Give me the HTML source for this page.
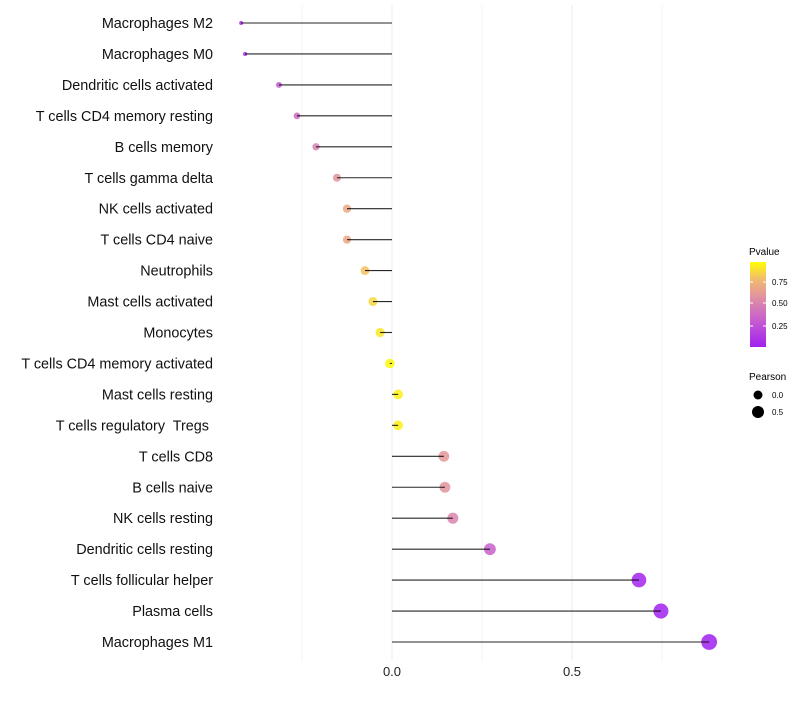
<!DOCTYPE html>
<html><head><meta charset="utf-8"><style>
body{margin:0;background:#fff;font-family:"Liberation Sans",sans-serif}
svg text{font-family:"Liberation Sans",sans-serif}
</style></head><body>
<svg id="c" width="800" height="700">
<defs><linearGradient id="pg" x1="0" y1="1" x2="0" y2="0">
<stop offset="0" stop-color="#a020f0"/><stop offset="0.3" stop-color="#c55bd0"/><stop offset="0.55" stop-color="#dd8aa8"/><stop offset="0.8" stop-color="#f2bb6e"/><stop offset="1" stop-color="#ffff00"/></linearGradient></defs>
<g id="grid"></g><g id="marks"></g><g id="labels"></g>
<g>
<text x="749" y="255" font-size="10">Pvalue</text>
<rect x="750" y="262" width="16" height="85" fill="url(#pg)"/>
<line x1="750" x2="753" y1="282" y2="282" stroke="#fff"/><line x1="763" x2="766" y1="282" y2="282" stroke="#fff"/>
<line x1="750" x2="753" y1="303" y2="303" stroke="#fff"/><line x1="763" x2="766" y1="303" y2="303" stroke="#fff"/>
<line x1="750" x2="753" y1="326" y2="326" stroke="#fff"/><line x1="763" x2="766" y1="326" y2="326" stroke="#fff"/>
<text x="772" y="285" font-size="8">0.75</text><text x="772" y="306" font-size="8">0.50</text><text x="772" y="329" font-size="8">0.25</text>
</g>
<g>
<text x="749" y="380" font-size="10">Pearson</text>
<circle cx="758" cy="395" r="4.5"/><text x="772" y="398" font-size="8">0.0</text>
<circle cx="758" cy="412" r="6"/><text x="772" y="415" font-size="8">0.5</text>
</g>
</svg>
<script>
const cells=["Macrophages M2","Macrophages M0","Dendritic cells activated","T cells CD4 memory resting","B cells memory","T cells gamma delta","NK cells activated","T cells CD4 naive","Neutrophils","Mast cells activated","Monocytes","T cells CD4 memory activated","Mast cells resting","T cells regulatory  Tregs\u00a0","T cells CD8","B cells naive","NK cells resting","Dendritic cells resting","T cells follicular helper","Plasma cells","Macrophages M1"];
const pearson=[-0.419,-0.408,-0.314,-0.264,-0.211,-0.153,-0.125,-0.125,-0.075,-0.053,-0.033,-0.006,0.017,0.017,0.144,0.147,0.169,0.272,0.686,0.747,0.881];
const pvalue=[0.05,0.06,0.28,0.38,0.5,0.6,0.7,0.7,0.82,0.88,0.92,0.98,0.96,0.96,0.62,0.6,0.52,0.32,0.02,0.01,0.0];
const xTicks=[0,0.5];
const ns="http://www.w3.org/2000/svg";
const x=v=>392+v*360, y=i=>23+i*30.95, r=v=>Math.sqrt(4+45*(v+0.42));
const stops=[[0,[160,32,240]],[0.3,[197,91,208]],[0.55,[221,138,168]],[0.8,[242,187,110]],[1,[255,255,0]]];
function col(p){for(let k=1;k<stops.length;k++){if(p<=stops[k][0]){const a=stops[k-1],b=stops[k],t=(p-a[0])/(b[0]-a[0]);return 'rgb('+a[1].map((c,j)=>Math.round(c+(b[1][j]-c)*t)).join(',')+')';}}return 'rgb(255,255,0)';}
function mk(t,a,p){const e=document.createElementNS(ns,t);for(const k in a)e.setAttribute(k,a[k]);p.appendChild(e);return e;}
const g=document.getElementById('grid'),m=document.getElementById('marks'),l=document.getElementById('labels');
[-0.25,0,0.25,0.5,0.75].forEach(v=>{const e=mk('line',{x1:x(v),x2:x(v),y1:5,y2:660,stroke:'#ebebeb','stroke-width':v%0.5===0?1:0.6},g);

});
xTicks.forEach(v=>{const t=mk('text',{x:x(v),y:676,'font-size':13,'text-anchor':'middle',fill:'#222'},l);t.textContent=v.toFixed(1);

});
cells.forEach((c,i)=>{
const t=mk('text',{x:213,y:y(i)+5,'font-size':14.4,'text-anchor':'end',fill:'#111','xml:space':'preserve'},l);t.textContent=c;t.style.whiteSpace='pre';


const p=mk('circle',{cx:x(pearson[i]),cy:y(i),r:r(pearson[i]),fill:col(pvalue[i]),'fill-opacity':0.85},m);


const s=mk('line',{x1:x(0),x2:x(pearson[i]),y1:y(i),y2:y(i),stroke:'#000','stroke-width':1.1,'stroke-opacity':0.85},m);


});
</script>
</body></html>
